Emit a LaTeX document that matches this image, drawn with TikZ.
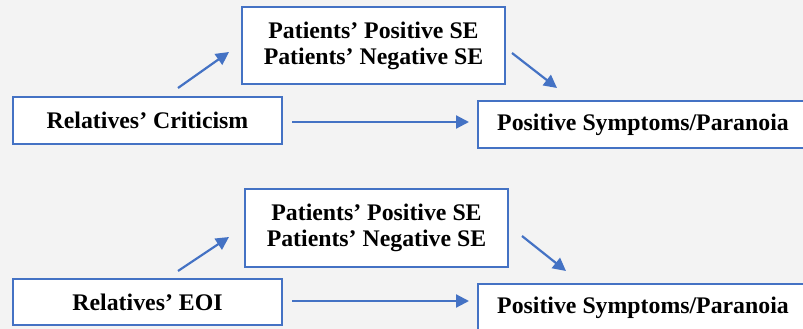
\documentclass[tikz,border=0pt]{standalone}
\usepackage{fontspec}
\setmainfont{Liberation Serif}
\usetikzlibrary{arrows.meta}
\definecolor{bgc}{HTML}{F3F3F3}
\definecolor{bluec}{HTML}{4472C4}
\tikzset{
  boxn/.style={draw=bluec, fill=white, line width=2pt, inner sep=0pt, align=center,
     font=\bfseries\fontsize{23.8}{26}\selectfont, text=black},
  arr/.style={draw=bluec, line width=2.2pt, -{Triangle[length=13pt,width=13pt]}}
}
\begin{document}
\begin{tikzpicture}[x=1pt,y=-1pt]
\fill[bgc] (0,0) rectangle (803,329);
\useasboundingbox (0,0) rectangle (803,329);
\clip (0,0) rectangle (803,329);
% top
\node[boxn, minimum width=263pt, minimum height=77pt] (m1) at (373.5,45.5) {Patients’ Positive SE\\Patients’ Negative SE};
\node[boxn, minimum width=269pt, minimum height=47pt] (r1) at (147.5,120.5) {Relatives’ Criticism};
\node[boxn, minimum width=330pt, minimum height=47pt] (o1) at (643,124.5) {Positive Symptoms/Paranoia};
\coordinate (a1s) at (178,88); \coordinate (a1e) at (229,52);
\coordinate (b1s) at (512,53); \coordinate (b1e) at (557,88);
\draw[arr] (a1s) -- (a1e);
\draw[arr] (b1s) -- (b1e);
\draw[arr, shorten <=9pt, shorten >=8pt] (r1.east |- 0,122) -- (o1.west |- 0,122);
% bottom
\node[boxn, minimum width=263pt, minimum height=78pt] (m2) at (376.5,228) {Patients’ Positive SE\\Patients’ Negative SE};
\node[boxn, minimum width=269pt, minimum height=46pt] (r2) at (147.5,302) {Relatives’ EOI};
\node[boxn, minimum width=330pt, minimum height=47pt] (o2) at (643,307.5) {Positive Symptoms/Paranoia};
\coordinate (a2s) at (178,271); \coordinate (a2e) at (229,237);
\coordinate (b2s) at (522,236); \coordinate (b2e) at (566,271);
\draw[arr] (a2s) -- (a2e);
\draw[arr] (b2s) -- (b2e);
\draw[arr, shorten <=9pt, shorten >=8pt] (r2.east |- 0,301) -- (o2.west |- 0,301);
\end{tikzpicture}
\end{document}
